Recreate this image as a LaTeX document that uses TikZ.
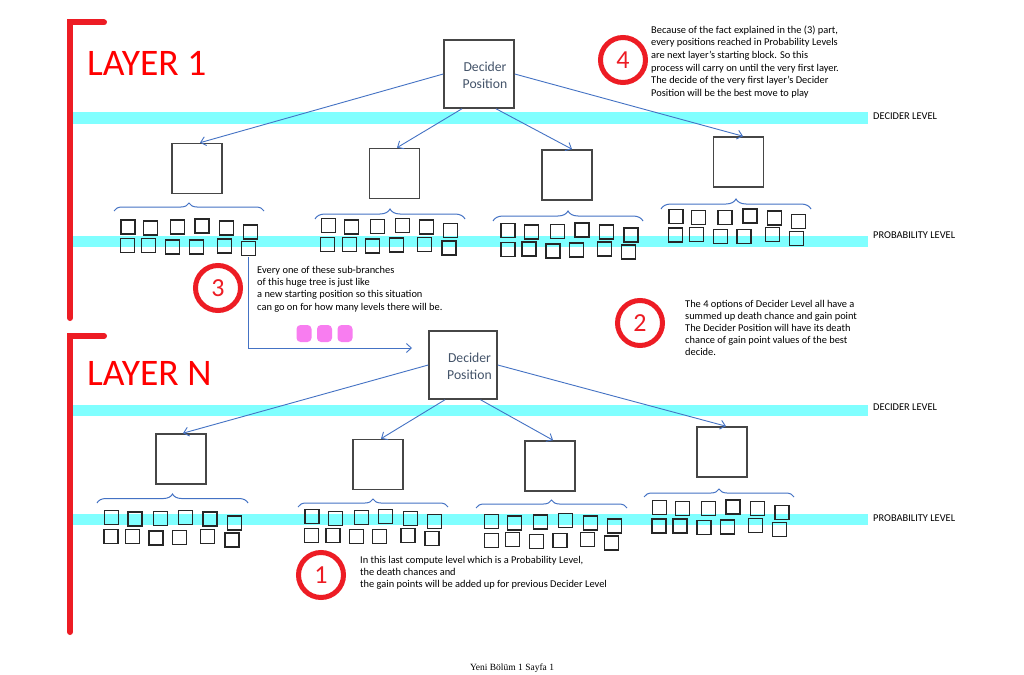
\documentclass[tikz,border=0pt]{standalone}
\usepackage{fontspec}
\setmainfont{Carlito}
\newfontfamily\footfont{Liberation Serif}
\usetikzlibrary{arrows.meta,decorations.pathreplacing}
\definecolor{bandcyan}{RGB}{128,255,255}
\definecolor{lineblue}{RGB}{68,114,196}
\definecolor{markred}{RGB}{237,28,36}
\definecolor{layerred}{RGB}{255,0,0}
\definecolor{slate}{RGB}{68,84,106}
\definecolor{boxgray}{RGB}{70,70,70}
\definecolor{dotpink}{RGB}{248,125,240}
\begin{document}
\begin{tikzpicture}[x=1pt,y=-1pt,
  band/.style={fill=bandcyan,draw=none},
  decider/.style={draw=boxgray,line width=1.5pt,minimum width=70pt,minimum height=68pt,inner sep=0pt},
  dtext/.style={align=center,inner sep=0pt,text=slate,font=\fontsize{13.7}{17}\selectfont},
  child/.style={draw=boxgray,line width=1.6pt,minimum size=50pt,inner sep=0pt},
  sq/.style={draw=black!85,line width=1.2pt,minimum size=14pt,inner sep=0pt},
  conn/.style={draw=lineblue,line width=0.9pt,-{Straight Barb[length=5pt,width=9pt]}},
  brc/.style={draw=lineblue,line width=1pt,decorate,decoration={brace,amplitude=#1}},
  numcircle/.style={circle,draw=markred,line width=5pt,minimum size=45pt,inner sep=0pt,text=markred,font=\fontsize{26}{26}\selectfont},
  note/.style={anchor=north west,align=left,inner sep=0pt,font=\fontsize{10.4}{12.5}\selectfont},
  lvl/.style={anchor=west,inner sep=0pt,font=\fontsize{10.4}{12}\selectfont},
  layer/.style={anchor=base west,inner sep=0pt,text=layerred,font=\fontsize{37.5}{38}\selectfont},
  bracket/.style={draw=markred,line width=6pt,line cap=round},
  pinkdot/.style={fill=dotpink,rounded corners=4pt,minimum width=15pt,minimum height=17pt,inner sep=0pt}
]
\useasboundingbox[fill=white] (0,0) rectangle (1024,674);

% ---------- bands ----------
\fill[band] (73,112.5) rectangle (868,124);
\fill[band] (73,236) rectangle (868,247);
\fill[band] (73,405) rectangle (868,416);
\fill[band] (73,514) rectangle (868,525);

% ---------- brackets ----------
\coordinate (b1a) at (104,22.5); \coordinate (b1b) at (70,22.5); \coordinate (b1c) at (70,318);
\draw[bracket] (b1a) -- (b1b) -- (b1c);
\coordinate (b2a) at (104,336); \coordinate (b2b) at (70,336); \coordinate (b2c) at (70,632);
\draw[bracket] (b2a) -- (b2b) -- (b2c);

\node[layer] (lay1) at (87,75.7) {LAYER 1};
\node[layer] (layN) at (87,385.7) {LAYER N};

% ---------- layer 1 ----------
\node[decider] (d1) at (479,74) {};
\node[dtext] (d1t) at ([xshift=6pt,yshift=-1.5pt]d1.center) {Decider\\Position};
\node[child] (c11) at (197,168.5) {};
\node[child] (c12) at (394.5,173.5) {};
\node[child] (c13) at (567,175) {};
\node[child] (c14) at (738.5,162) {};
\draw[conn] (d1.west) -- ([xshift=3pt]c11.north);
\draw[conn] ([xshift=-17pt]d1.south) -- ([xshift=2.5pt]c12.north);
\draw[conn] ([xshift=17pt]d1.south) -- ([xshift=5pt]c13.north);
\draw[conn] (d1.east) -- ([xshift=4.5pt]c14.north);

\draw[brc=8pt] (114,211) -- (264,211);
\draw[brc=10pt] (315,219) -- (465,219);
\draw[brc=10pt] (493,221) -- (643,221);
\draw[brc=10pt] (661,209) -- (811,209);

\foreach \x/\y [count=\i] in {128/227,150.5/228,177.5/227,202/226,226.5/228,250.5/232,
  127.5/245.5,148.5/245.5,172.5/247,196.5/247,224.5/246,248.5/248.5}
  \node[sq] (s1a\i) at (\x,\y) {};
\foreach \x/\y [count=\i] in {328.5/225.5,351.5/227,377.5/226.5,402.5/225.5,426.5/227,450.5/230.5,
  327.5/244.5,349.5/244.5,372.5/246,396.5/245,424.5/244.5,449/248}
  \node[sq] (s1b\i) at (\x,\y) {};
\foreach \x/\y [count=\i] in {508/230.5,531.5/232,557.5/231.5,582/230,606.5/232,631/235,
  508/249.5,529/249,553/251,576.5/250,604.5/249,628.5/252}
  \node[sq] (s1c\i) at (\x,\y) {};
\foreach \x/\y [count=\i] in {676/216.5,698.5/217.5,725/217.5,750/216,774.5/218,798.5/221.5,
  675.5/235,696.5/234.5,720.5/236.5,744/236.5,772.5/234.5,796.5/238.5}
  \node[sq] (s1d\i) at (\x,\y) {};

% ---------- layer N ----------
\node[decider,minimum width=68pt] (dN) at (463,365) {};
\node[dtext] (dNt) at ([xshift=6.5pt,yshift=-1pt]dN.center) {Decider\\Position};
\node[child] (cN1) at (181,459) {};
\node[child] (cN2) at (378,464.5) {};
\node[child] (cN3) at (550,466) {};
\node[child] (cN4) at (722,452) {};
\draw[conn] (dN.west) -- ([xshift=2pt]cN1.north);
\draw[conn] ([xshift=-18pt]dN.south) -- ([xshift=3pt]cN2.north);
\draw[conn] ([xshift=17.5pt]dN.south) -- ([xshift=3pt]cN3.north);
\draw[conn] (dN.east) -- ([xshift=4pt]cN4.north);

\draw[brc=9pt] (97,503) -- (248,503);
\draw[brc=8pt] (298,507) -- (448,507);
\draw[brc=8pt] (476,508) -- (627,508);
\draw[brc=8pt] (644,497) -- (794,497);

\foreach \x/\y [count=\i] in {111.5/517.5,135/519,160.5/518.5,185.5/517.5,210/519,234.5/523,
  111/536.5,132.5/536.5,156/538,179.5/537.5,207.5/536.5,232/540}
  \node[sq] (sNa\i) at (\x,\y) {};
\foreach \x/\y [count=\i] in {312/516.8,335.5/518.2,361.5/517.5,385.5/516.5,410.5/518.2,434.5/521.8,
  311.5/535.2,333/535.2,356.5/536.5,379.5/536.5,408/535.2,432/538.8}
  \node[sq] (sNb\i) at (\x,\y) {};
\foreach \x/\y [count=\i] in {491.5/521.5,514.5/523,540.5/522,565.5/520.5,590.5/523,614.5/526,
  491.5/540.5,512.5/539.5,536.5/541.5,560/540.5,587.5/539.5,611.5/543}
  \node[sq] (sNc\i) at (\x,\y) {};
\foreach \x/\y [count=\i] in {659.5/507.5,682.5/508.5,708.5/508.5,733/507,757.5/508.5,782/512.5,
  659/526,680/526,704/527.5,727.5/527,755.5/525.5,779.5/529.5}
  \node[sq] (sNd\i) at (\x,\y) {};

% ---------- level labels ----------
\node[lvl] (dl1) at (873,116) {DECIDER LEVEL};
\node[lvl] (pl1) at (873,235) {PROBABILITY LEVEL};
\node[lvl] (dlN) at (873,407) {DECIDER LEVEL};
\node[lvl] (plN) at (873,518) {PROBABILITY LEVEL};

% ---------- numbered notes ----------
\node[numcircle] (n4) at (623,60) {4};
\node[note,font=\fontsize{10.4}{12.7}\selectfont] (t4) at (651,25.3) {Because of the fact explained in the (3) part,\\every positions reached in Probability Levels\\are next layer's starting block. So this\\process will carry on until the very first layer.\\The decide of the very first layer's Decider\\Position will be the best move to play};

\node[numcircle] (n3) at (218,288) {3};
\node[note,font=\fontsize{10.4}{12.3}\selectfont] (t3) at (257,265.7) {Every one of these sub-branches\\of this huge tree is just like\\a new starting position so this situation\\can go on for how many levels there will be.};

\node[numcircle] (n2) at (640,323) {2};
\node[note,font=\fontsize{10.4}{12}\selectfont] (t2) at (685,300.5) {The 4 options of Decider Level all have a\\summed up death chance and gain point\\The Decider Position will have its death\\chance of gain point values of the best\\decide.};

\node[numcircle] (n1) at (321,575) {1};
\node[note,font=\fontsize{10.4}{12}\selectfont] (t1) at (360,556.5) {In this last compute level which is a Probability Level,\\the death chances and\\the gain points will be added up for previous Decider Level};

% ---------- continuation arrow and dots ----------
\coordinate (a3s) at (248,257);
\coordinate (a3e) at (412,348);
\draw[conn] (a3s) |- (a3e);
\node[pinkdot] (p1) at (304,333.5) {};
\node[pinkdot] (p2) at (324.5,333.5) {};
\node[pinkdot] (p3) at (345,333.5) {};

% ---------- footer ----------
\node[inner sep=0pt,font=\footfont\fontsize{9.5}{10}\selectfont] (foot) at (512,668) {Yeni Bölüm 1 Sayfa 1};
\end{tikzpicture}
\end{document}
